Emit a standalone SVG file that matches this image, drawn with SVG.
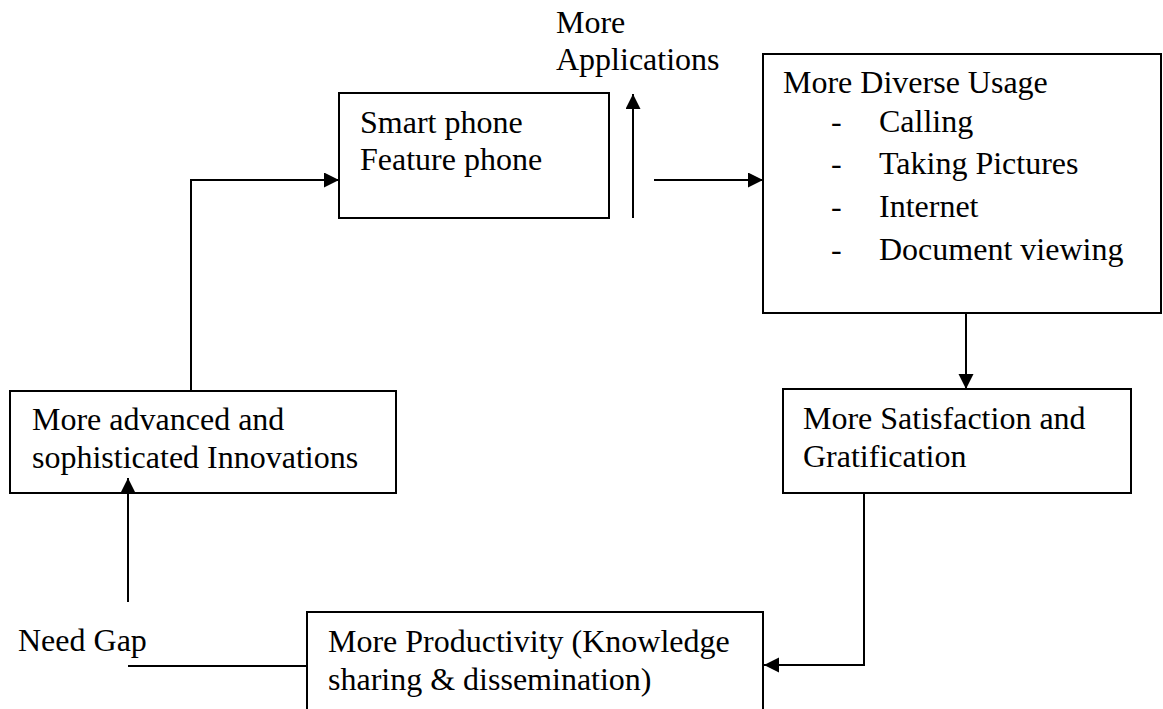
<svg xmlns="http://www.w3.org/2000/svg" width="1163" height="709" viewBox="0 0 1163 709">
<defs>
<style>
.box{fill:#fff;stroke:#000;stroke-width:2}
.t{font-family:'Liberation Serif','Times New Roman',serif;font-size:32px;fill:#000}
.c{fill:none;stroke:#000;stroke-width:2}
</style>
<marker id="ah" markerUnits="userSpaceOnUse" markerWidth="16" markerHeight="16" refX="15" refY="7.5" orient="auto">
<path d="M0,0 L15,7.5 L0,15 z" fill="#000"/>
</marker>
</defs>
<rect width="1163" height="709" fill="#fff"/>
<g id="smartphone">
<rect class="box" x="339" y="93" width="270" height="125"/>
<text class="t" x="360" y="133">Smart phone</text>
<text class="t" x="360" y="170">Feature phone</text>
</g>
<g id="more-applications">
<text class="t" x="556" y="33">More</text>
<text class="t" x="556" y="70">Applications</text>
</g>
<g id="diverse-usage">
<rect class="box" x="763" y="54" width="398" height="259"/>
<text class="t" x="783" y="93">More Diverse Usage</text>
<text class="t" x="831" y="132">-</text><text class="t" x="879" y="132">Calling</text>
<text class="t" x="831" y="174">-</text><text class="t" x="879" y="174">Taking Pictures</text>
<text class="t" x="831" y="217">-</text><text class="t" x="879" y="217">Internet</text>
<text class="t" x="831" y="260">-</text><text class="t" x="879" y="260">Document viewing</text>
</g>
<g id="satisfaction">
<rect class="box" x="783" y="389" width="348" height="104"/>
<text class="t" x="803" y="429">More Satisfaction and</text>
<text class="t" x="803" y="467">Gratification</text>
</g>
<g id="productivity">
<rect class="box" x="307" y="612" width="456" height="110"/>
<text class="t" x="328" y="652">More Productivity (Knowledge</text>
<text class="t" x="328" y="690">sharing &amp; dissemination)</text>
</g>
<g id="innovations">
<rect class="box" x="10" y="391" width="386" height="102"/>
<text class="t" x="32" y="430">More advanced and</text>
<text class="t" x="32" y="468">sophisticated Innovations</text>
</g>
<g id="need-gap">
<text class="t" x="18" y="651">Need Gap</text>
</g>
<g id="connectors">
<polyline class="c" points="191,391 191,180 339,180" marker-end="url(#ah)"/>
<line class="c" x1="633" y1="218" x2="633" y2="94" marker-end="url(#ah)"/>
<line class="c" x1="654" y1="180" x2="763" y2="180" marker-end="url(#ah)"/>
<line class="c" x1="966" y1="313" x2="966" y2="389" marker-end="url(#ah)"/>
<polyline class="c" points="864,493 864,665 764,665" marker-end="url(#ah)"/>
<line class="c" x1="128" y1="666" x2="307" y2="666"/>
<line class="c" x1="128" y1="602" x2="128" y2="478" marker-end="url(#ah)"/>
</g>
</svg>
